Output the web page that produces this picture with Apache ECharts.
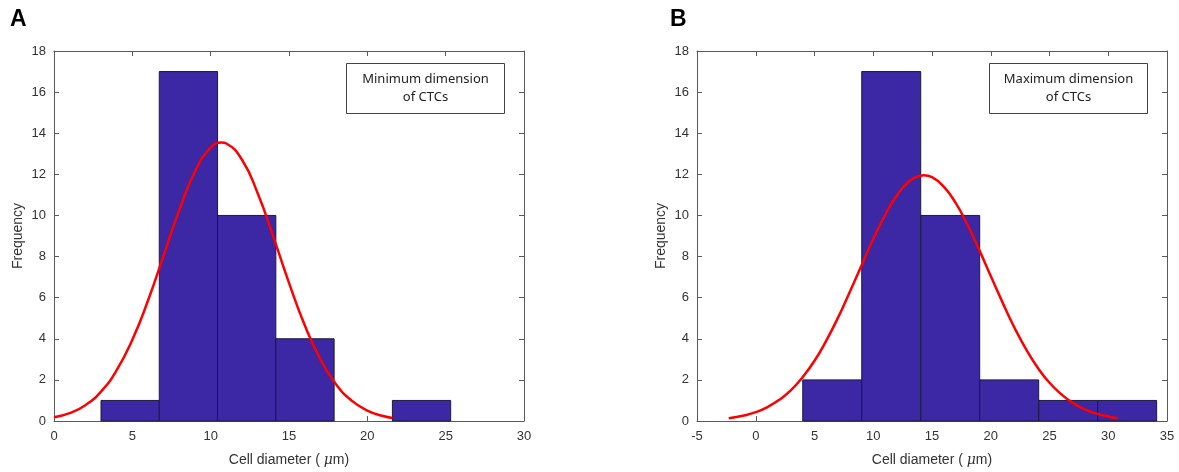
<!DOCTYPE html>
<html>
<head>
<meta charset="utf-8">
<script src="https://cdn.jsdelivr.net/npm/echarts@6/dist/echarts.min.js"></script>
<style>
  html, body { margin: 0; padding: 0; background: #fff; }
  #chart { width: 1179px; height: 472px; }
</style>
</head>
<body>
<div id="chart"></div>
<script>
// panel A: minimum dimension
const edgesA = [3.0, 6.72, 10.44, 14.16, 17.88, 21.6, 25.32]
const countsA = [1, 17, 10, 4, 0, 1]
const fitA = [
  [0, 0.18], [1, 0.38], [2, 0.77], [3, 1.43], [4, 2.47], [5, 3.95], [6, 5.86],
  [7, 8.06], [8, 10.27], [9, 12.14], [10, 13.3], [10.7, 13.55], [11, 13.5],
  [12, 12.71], [13, 11.08], [14, 8.96], [15, 6.72], [16, 4.67], [17, 3.01],
  [18, 1.79], [19, 0.99], [20, 0.51], [21, 0.24], [21.6, 0.15]
]

// panel B: maximum dimension
const edgesB = [4.0, 9.02, 14.04, 19.06, 24.08, 29.1, 34.12]
const countsB = [2, 17, 10, 2, 1, 1]
const fitB = [
  [-2.3, 0.13], [-1, 0.27], [0, 0.43], [1, 0.68], [2, 1.03], [3, 1.5], [4, 2.14],
  [5, 2.93], [6, 3.91], [7, 5.03], [8, 6.28], [9, 7.57], [10, 8.85], [11, 10.01],
  [12, 10.97], [13, 11.63], [14, 11.93], [14.3, 11.95], [15, 11.86], [16, 11.4],
  [17, 10.62], [18, 9.57], [19, 8.35], [20, 7.05], [21, 5.77], [22, 4.56],
  [23, 3.5], [24, 2.59], [25, 1.86], [26, 1.3], [27, 0.87], [28, 0.57],
  [29, 0.36], [30, 0.22], [30.8, 0.14]
]

const xRangeA = { min: 0, max: 30, interval: 5 }
const xRangeB = { min: -5, max: 35, interval: 5 }
const yRange = { min: 0, max: 18, interval: 2 }

const AXIS_COLOR = '#5a5a5a'
const LABEL_COLOR = '#333'
const FONT = 'Arial, "Liberation Sans", sans-serif'

const toBins = (edges, counts) => counts.map((c, i) => [edges[i], edges[i + 1], c])

const renderBar = (params, api) => {
  const c = api.value(2)
  if (!c) return null
  const p0 = api.coord([api.value(0), c])
  const p1 = api.coord([api.value(1), 0])
  return {
    type: 'rect',
    shape: { x: p0[0], y: p0[1], width: p1[0] - p0[0], height: p1[1] - p0[1] },
    style: { fill: '#3c27a5', stroke: '#1c1a3c', lineWidth: 1 }
  }
}

const baseAxis = {
  axisLine: { show: true, onZero: false, lineStyle: { color: AXIS_COLOR, width: 1 } },
  axisTick: { show: true, inside: true, length: 5, lineStyle: { color: AXIS_COLOR } },
  splitLine: { show: false },
  axisLabel: { color: LABEL_COLOR, fontFamily: FONT, fontSize: 13 }
}

const xAxisFor = (grid, range, top) => Object.assign({}, baseAxis, range, {
  type: 'value',
  gridIndex: grid,
  position: top ? 'top' : 'bottom',
  axisLabel: top ? { show: false } : Object.assign({}, baseAxis.axisLabel, { margin: 9 }),
  name: top ? '' : 'Cell diameter ( {mu|μ}m)',
  nameLocation: 'middle',
  nameGap: 32,
  nameTextStyle: {
    color: LABEL_COLOR, fontFamily: FONT, fontSize: 14,
    rich: { mu: { fontFamily: '"DejaVu Serif", serif', fontStyle: 'italic', fontSize: 14, color: LABEL_COLOR } }
  }
})

const yAxisFor = (grid, right) => Object.assign({}, baseAxis, yRange, {
  type: 'value',
  gridIndex: grid,
  position: right ? 'right' : 'left',
  axisLabel: right ? { show: false } : Object.assign({}, baseAxis.axisLabel, { margin: 8 }),
  name: right ? '' : 'Frequency',
  nameLocation: 'middle',
  nameGap: 29,
  nameTextStyle: { color: LABEL_COLOR, fontFamily: FONT, fontSize: 14 }
})

const noteBox = (x, y, w, h, lines) => ({
  type: 'group',
  left: x,
  top: y,
  children: [
    { type: 'rect', shape: { x: 0, y: 0, width: w, height: h }, style: { fill: '#fff', stroke: '#444', lineWidth: 1 } },
    {
      type: 'text',
      x: w / 2,
      y: h / 2,
      style: {
        text: lines.join('\n'), align: 'center', verticalAlign: 'middle',
        fontFamily: '"Noto Sans", sans-serif', fontSize: 13, lineHeight: 18, fill: '#222'
      }
    }
  ]
})

const chart = echarts.init(document.getElementById('chart'), null, { renderer: 'canvas' })

chart.setOption({
  animation: false,
  backgroundColor: '#fff',
  grid: [
    { left: 54, top: 51, width: 470, height: 372 },
    { left: 697, top: 51, width: 470, height: 372 }
  ],
  xAxis: [
    xAxisFor(0, xRangeA, false),
    xAxisFor(0, xRangeA, true),
    xAxisFor(1, xRangeB, false),
    xAxisFor(1, xRangeB, true)
  ],
  yAxis: [
    yAxisFor(0, false),
    yAxisFor(0, true),
    yAxisFor(1, false),
    yAxisFor(1, true)
  ],
  series: [
    {
      type: 'custom', xAxisIndex: 0, yAxisIndex: 0,
      renderItem: renderBar, data: toBins(edgesA, countsA),
      encode: { x: [0, 1], y: 2 }
    },
    {
      type: 'line', xAxisIndex: 0, yAxisIndex: 0, data: fitA,
      smooth: true, showSymbol: false, lineStyle: { color: '#ff0000', width: 2.5 }, z: 5
    },
    {
      type: 'custom', xAxisIndex: 2, yAxisIndex: 2,
      renderItem: renderBar, data: toBins(edgesB, countsB),
      encode: { x: [0, 1], y: 2 }
    },
    {
      type: 'line', xAxisIndex: 2, yAxisIndex: 2, data: fitB,
      smooth: true, showSymbol: false, lineStyle: { color: '#ff0000', width: 2.5 }, z: 5
    }
  ],
  graphic: [
    { type: 'text', left: 10, top: 8, style: { text: 'A', fontFamily: FONT, fontWeight: 'bold', fontSize: 23, fill: '#000' } },
    { type: 'text', left: 670, top: 8, style: { text: 'B', fontFamily: FONT, fontWeight: 'bold', fontSize: 23, fill: '#000' } },
    noteBox(346, 63, 158, 50, ['Minimum dimension', 'of CTCs']),
    noteBox(989, 63, 158, 50, ['Maximum dimension', 'of CTCs'])
  ]
})
</script>
</body>
</html>
